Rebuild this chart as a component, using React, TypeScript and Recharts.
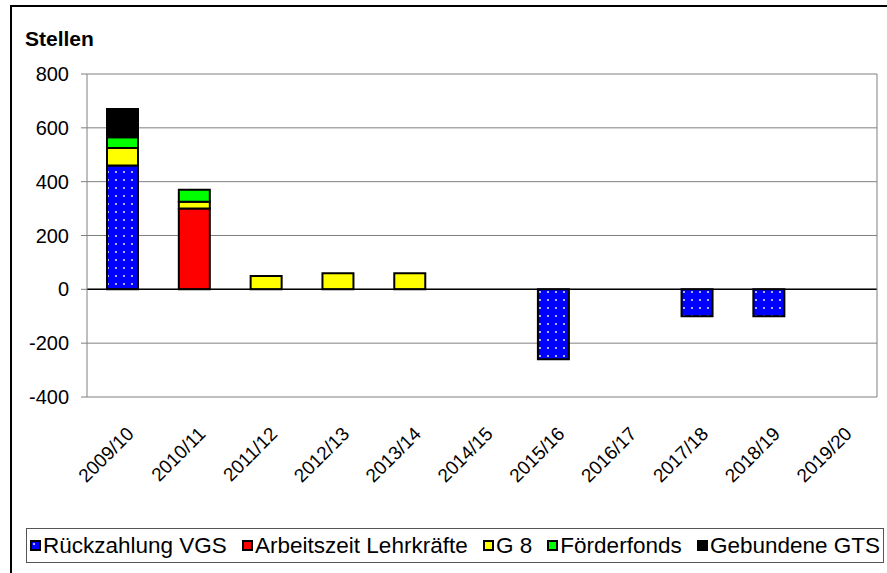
import { BarChart, Bar, XAxis, YAxis, CartesianGrid, ReferenceLine } from "recharts"

const categories = ["2009/10", "2010/11", "2011/12", "2012/13", "2013/14", "2014/15", "2015/16", "2016/17", "2017/18", "2018/19", "2019/20"]
const rueckzahlungVGS = [460, 0, 0, 0, 0, 0, -260, 0, -100, -100, 0]
const arbeitszeitLehrkraefte = [0, 300, 0, 0, 0, 0, 0, 0, 0, 0, 0]
const g8 = [65, 25, 50, 60, 60, 0, 0, 0, 0, 0, 0]
const foerderfonds = [40, 45, 0, 0, 0, 0, 0, 0, 0, 0, 0]
const gebundeneGTS = [105, 0, 0, 0, 0, 0, 0, 0, 0, 0, 0]
const yTicks = [-400, -200, 0, 200, 400, 600, 800]

const series = [
  { key: "vgs", name: "Rückzahlung VGS", fill: "url(#vgsDots)", values: rueckzahlungVGS },
  { key: "arbeitszeit", name: "Arbeitszeit Lehrkräfte", fill: "#ff0000", values: arbeitszeitLehrkraefte },
  { key: "g8", name: "G 8", fill: "#ffff00", values: g8 },
  { key: "foerder", name: "Förderfonds", fill: "#00ff00", values: foerderfonds },
  { key: "gts", name: "Gebundene GTS", fill: "#000000", values: gebundeneGTS },
]

const data = categories.map((year, i) => {
  const row: Record<string, string | number> = { year }
  series.forEach((s) => (row[s.key] = s.values[i]))
  return row
})

const font = '"Liberation Sans", Arial, sans-serif'

function YearTick({ x, y, payload }: any) {
  return (
    <g transform={`translate(${x + 12},${y + 38})`}>
      <text x={0} y={0} textAnchor="end" transform="rotate(-45)" fontSize={19} fontFamily={font} fill="#000">
        {payload.value}
      </text>
    </g>
  )
}

export default function App() {
  return (
    <div style={{ position: "absolute", left: 0, top: 0, width: 887, height: 573, background: "#fff", fontFamily: font, overflow: "hidden" }}>
      <div style={{ position: "absolute", left: 10, top: 5, width: 880, height: 580, borderTop: "2px solid #000", borderLeft: "2px solid #000" }} />
      <div style={{ position: "absolute", left: 25, top: 27, fontSize: 21, fontWeight: "bold" }}>Stellen</div>
      <div style={{ position: "absolute", left: 0, top: 0 }}>
        <BarChart width={887} height={520} data={data} margin={{ top: 74, right: 9, bottom: 13, left: 0 }} stackOffset="sign" barSize={31}>
          <defs>
            <pattern id="vgsDots" width="8" height="8" patternUnits="userSpaceOnUse">
              <rect width="8" height="8" fill="#0000ff" />
              <circle cx="4" cy="4" r="1.1" fill="#d8d8ff" />
            </pattern>
          </defs>
          <CartesianGrid horizontal vertical={false} stroke="#808080" strokeWidth={1} />
          <XAxis dataKey="year" axisLine={false} tickLine={false} tickSize={0} tickMargin={0} height={110} interval={0} tick={<YearTick />} />
          <YAxis
            domain={[-400, 800]}
            ticks={yTicks}
            width={87}
            tickSize={6}
            tickMargin={12}
            axisLine={{ stroke: "#808080" }}
            tickLine={{ stroke: "#808080" }}
            tick={{ fill: "#000", fontSize: 20, fontFamily: font }}
            interval={0}
          />
          <YAxis yAxisId="right" orientation="right" width={1} domain={[-400, 800]} tick={false} tickLine={false} axisLine={{ stroke: "#808080" }} />
          <ReferenceLine y={0} stroke="#000" strokeWidth={1.5} />
          {series.map((s) => (
            <Bar key={s.key} dataKey={s.key} name={s.name} stackId="a" fill={s.fill} stroke="#000" strokeWidth={2} isAnimationActive={false} />
          ))}
        </BarChart>
      </div>
      <div
        style={{
          position: "absolute",
          left: 26,
          top: 528,
          width: 858,
          height: 35,
          boxSizing: "border-box",
          border: "1px solid #555",
          display: "flex",
          alignItems: "center",
          justifyContent: "space-between",
          padding: "0 3px 0 3px",
          fontSize: 22.5,
        }}
      >
        {series.map((s) => (
          <div key={s.key} style={{ display: "flex", alignItems: "center", whiteSpace: "nowrap" }}>
            <svg width={11} height={11} style={{ marginRight: 2 }}>
              <rect x={1} y={1} width={9} height={9} fill={s.fill} stroke="#000" strokeWidth={2} />
            </svg>
            {s.name}
          </div>
        ))}
      </div>
    </div>
  )
}
